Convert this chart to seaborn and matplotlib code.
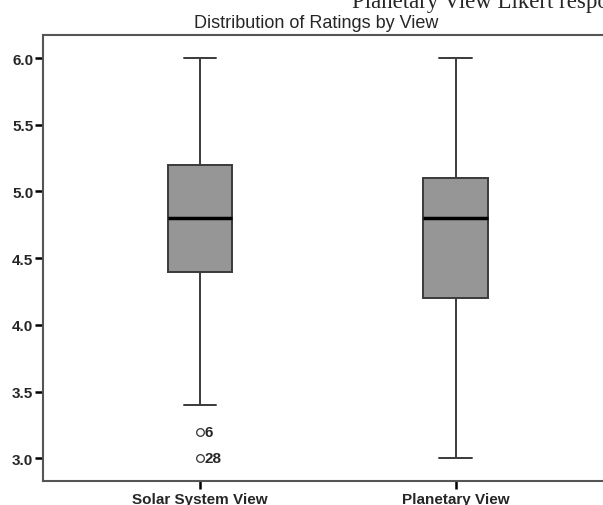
import numpy as np
import pandas as pd
import seaborn as sns
import matplotlib.pyplot as plt

# ratings per participant (case order)
views = ['Solar System View', 'Planetary View']
solar = [5.0, 4.6, 5.4, 4.8, 5.2, 3.2, 6.0, 4.4, 5.0, 4.2, 5.6, 4.8, 3.8, 5.2, 4.6, 5.8, 4.0,
         5.0, 4.8, 5.2, 3.4, 6.0, 4.4, 5.4, 4.6, 5.0, 4.2, 3.0, 5.6, 4.8, 3.6, 5.8, 5.2]
planetary = [4.8, 5.0, 4.2, 5.5, 3.9, 4.6, 5.1, 4.0, 5.9, 4.4, 4.8, 3.4, 5.2, 4.7, 5.0, 4.2, 5.6,
             4.5, 3.0, 4.9, 5.3, 4.1, 5.0, 6.0, 3.8, 4.6, 5.1, 4.3, 5.4, 4.8, 3.7, 5.0, 5.8]
yticks = [3.0, 3.5, 4.0, 4.5, 5.0, 5.5, 6.0]

df = pd.DataFrame({
    'View': [views[0]] * len(solar) + [views[1]] * len(planetary),
    'Rating': solar + planetary,
    'Case': list(range(1, len(solar) + 1)) + list(range(1, len(planetary) + 1)),
})

sns.set_style('white')
plt.rcParams['font.family'] = ['Liberation Sans', 'DejaVu Sans']

fig = plt.figure(figsize=(6.03, 5.06), dpi=100)
ax = fig.add_axes([43 / 603, 24.3 / 506, 590 / 603, 446 / 506])

whis = 1.45
sns.boxplot(data=df, x='View', y='Rating', order=views, width=0.254, whis=whis,
            color='#969696', saturation=1, linecolor='#3a3a3a', linewidth=1.4,
            fliersize=5.5,
            flierprops=dict(marker='o', markerfacecolor='white', markeredgecolor='#333333',
                            markeredgewidth=0.9),
            medianprops=dict(color='black', linewidth=2.5),
            ax=ax)

# case numbers next to outliers
for i, v in enumerate(views):
    sub = df[df['View'] == v]
    q1, q3 = np.percentile(sub['Rating'], [25, 75])
    lo, hi = q1 - whis * (q3 - q1), q3 + whis * (q3 - q1)
    for _, row in sub[(sub['Rating'] < lo) | (sub['Rating'] > hi)].iterrows():
        ax.annotate(str(row['Case']), (i, row['Rating']), xytext=(3.5, 0),
                    textcoords='offset points', va='center', ha='left',
                    fontsize=11, fontweight='bold')

ax.set_xlim(-0.6145, -0.6145 + 590 / 255.5)
ax.set_ylim(2.832, 6.175)
ax.set_yticks(yticks)
ax.set_yticklabels(['%.1f' % t for t in yticks], fontweight='bold', fontsize=11)
ax.set_xticks([0, 1])
ax.set_xticklabels(views, fontweight='bold', fontsize=11)
ax.set_xlabel('')
ax.set_ylabel('')
ax.tick_params(axis='y', direction='out', length=6, width=1.8, color='black', pad=1, left=True)
ax.tick_params(axis='x', direction='out', length=6, width=1.8, color='black', pad=2, bottom=True)
for side in ['top', 'left', 'bottom']:
    ax.spines[side].set_color('#555555')
    ax.spines[side].set_linewidth(1.5)
ax.spines['right'].set_visible(False)

fig.text(316 / 603, 1 - 24 / 506, 'Distribution of Ratings by View', ha='center', va='center',
         fontsize=13)
fig.text(352 / 603, 1 - 8 / 506, 'Planetary View Likert responses', ha='left', va='baseline',
         fontsize=16.5, family=['Liberation Serif'])

fig.savefig('out.png', dpi=100)
